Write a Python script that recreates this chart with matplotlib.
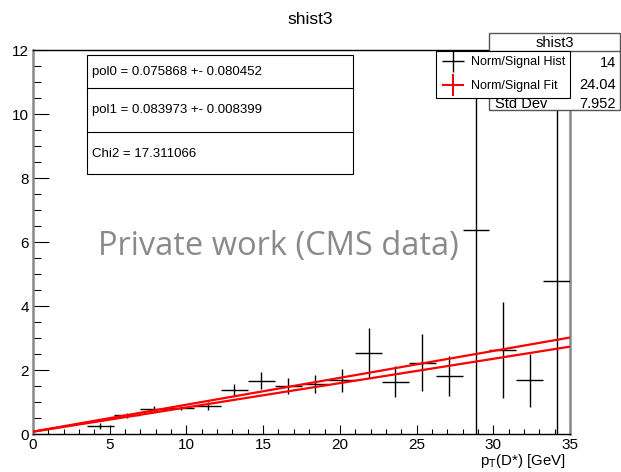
import matplotlib.pyplot as plt
from matplotlib.lines import Line2D
from matplotlib.patches import Rectangle
import numpy as np

plt.rcParams['font.family'] = ['Liberation Sans', 'DejaVu Sans']

# histogram bins (width 1.75 GeV)
bin_centers = [4.375, 6.125, 7.875, 9.625, 11.375, 13.125, 14.875, 16.625, 18.375,
               20.125, 21.875, 23.625, 25.375, 27.125, 28.875, 30.625, 32.375, 34.125]
bin_values = [0.25, 0.58, 0.77, 0.82, 0.87, 1.37, 1.67, 1.50, 1.55,
              1.68, 2.53, 1.64, 2.23, 1.81, 6.39, 2.61, 1.68, 4.77]
bin_errors = [0.09, 0.07, 0.09, 0.07, 0.12, 0.18, 0.26, 0.26, 0.28,
              0.36, 0.77, 0.49, 0.89, 0.63, 6.6, 1.5, 0.83, 7.5]
bin_halfwidth = 0.875

# pol1 fits: (pol0, pol1)
fit_params = [(0.075868, 0.083973), (0.07, 0.076)]

fit_text = ["pol0 = 0.075868 +- 0.080452",
            "pol1 = 0.083973 +- 0.008399",
            "Chi2 = 17.311066"]
stat_labels = ["Entries", "Mean", "Std Dev"]
stat_values = ["14", "24.04", "7.952"]

fig = plt.figure(figsize=(6.21, 4.72), dpi=100)
ax = fig.add_axes([33/621, 1-434/472, 537/621, 384/472])

ax.errorbar(bin_centers, bin_values, yerr=bin_errors, xerr=bin_halfwidth,
            fmt='none', ecolor='black', elinewidth=1.0, capsize=0, zorder=3)

xf = np.linspace(0, 35, 50)
for p0, p1 in fit_params:
    ax.plot(xf, p0 + p1*xf, color='red', lw=1.6, zorder=4)

ax.set_xlim(0, 35)
ax.set_ylim(0, 12)
ax.set_xticks(np.arange(0, 36, 5))
ax.set_xticks(np.arange(0, 36, 1), minor=True)
ax.set_yticks(np.arange(0, 13, 2))
ax.set_yticks(np.arange(0, 12.1, 0.5), minor=True)
ax.tick_params(axis='x', which='major', direction='in', length=6.5, width=0.8, labelsize=11, pad=3)
ax.tick_params(axis='x', which='minor', direction='in', length=3.3, width=0.8)
ax.tick_params(axis='y', which='major', direction='in', length=11.5, width=0.8, labelsize=11, pad=3)
ax.tick_params(axis='y', which='minor', direction='in', length=5.8, width=0.8)
for side in ['left', 'right']:
    ax.spines[side].set_color('#888888')
    ax.spines[side].set_linewidth(1.8)
ax.spines['top'].set_linewidth(1.0)
ax.spines['bottom'].set_linewidth(1.0)

ax.text(0.991, -0.08, r'p$_{\mathrm{T}}$(D*) [GeV]', transform=ax.transAxes,
        ha='right', va='baseline', fontsize=10.8)

ax.text(0.457, 0.466, 'Private work (CMS data)', transform=ax.transAxes,
        ha='center', va='baseline', fontsize=23.5, color='#8a8a8a', family='Open Sans', zorder=6)

# fit parameter box
bx0, bx1, by0, by1 = 87, 353, 55, 174
fig.patches.append(Rectangle((bx0/621, 1-by1/472), (bx1-bx0)/621, (by1-by0)/472,
                             transform=fig.transFigure, facecolor='white',
                             edgecolor='black', lw=0.8, zorder=1))
for yd in [88, 132]:
    fig.add_artist(Line2D([bx0/621, bx1/621], [1-yd/472, 1-yd/472],
                          transform=fig.transFigure, color='black', lw=0.8, zorder=2))
for ty, t in zip([72, 110, 154], fit_text):
    fig.text(92/621, 1-ty/472, t, ha='left', va='center', fontsize=9.5, zorder=3)

# stats box (partly hidden under the legend)
sx0, sx1, sy0, sy1 = 489, 620, 33, 110
fig.patches.append(Rectangle((sx0/621, 1-sy1/472), (sx1-sx0)/621, (sy1-sy0)/472,
                             transform=fig.transFigure, facecolor='white',
                             edgecolor='#555555', lw=1.0, zorder=1))
fig.add_artist(Line2D([sx0/621, sx1/621], [1-51/472, 1-51/472],
                      transform=fig.transFigure, color='#555555', lw=1.0, zorder=2))
fig.text((sx0+sx1)/2/621, 1-43/472, 'shist3', ha='center', va='center', fontsize=10.5, zorder=3)
for ty, lab, val in zip([63, 85, 104], stat_labels, stat_values):
    fig.text(495/621, 1-ty/472, lab, ha='left', va='center', fontsize=10.5, zorder=3)
    fig.text(616/621, 1-ty/472, val, ha='right', va='center', fontsize=10.5, zorder=3)

# legend
handles = [Line2D([], [], color='black', marker='+', markersize=16.5, markeredgewidth=1.0, ls='none'),
           Line2D([], [], color='red', marker='+', markersize=16.5, markeredgewidth=1.5, ls='none')]
leg = fig.legend(handles, ['Norm/Signal Hist', 'Norm/Signal Fit'],
                 loc='upper left', bbox_to_anchor=(436/621, 1-51/472),
                 bbox_transform=fig.transFigure, fontsize=9, frameon=True, fancybox=False,
                 framealpha=1, borderpad=0.4, labelspacing=1.0, handlelength=1.9,
                 handletextpad=0.5, borderaxespad=0)
leg.get_frame().set_edgecolor('black')
leg.get_frame().set_linewidth(0.8)
leg.set_zorder(10)

fig.text(0.5, 1-20/472, 'shist3', ha='center', va='center', fontsize=12.5)

fig.savefig('out.png', dpi=100)
